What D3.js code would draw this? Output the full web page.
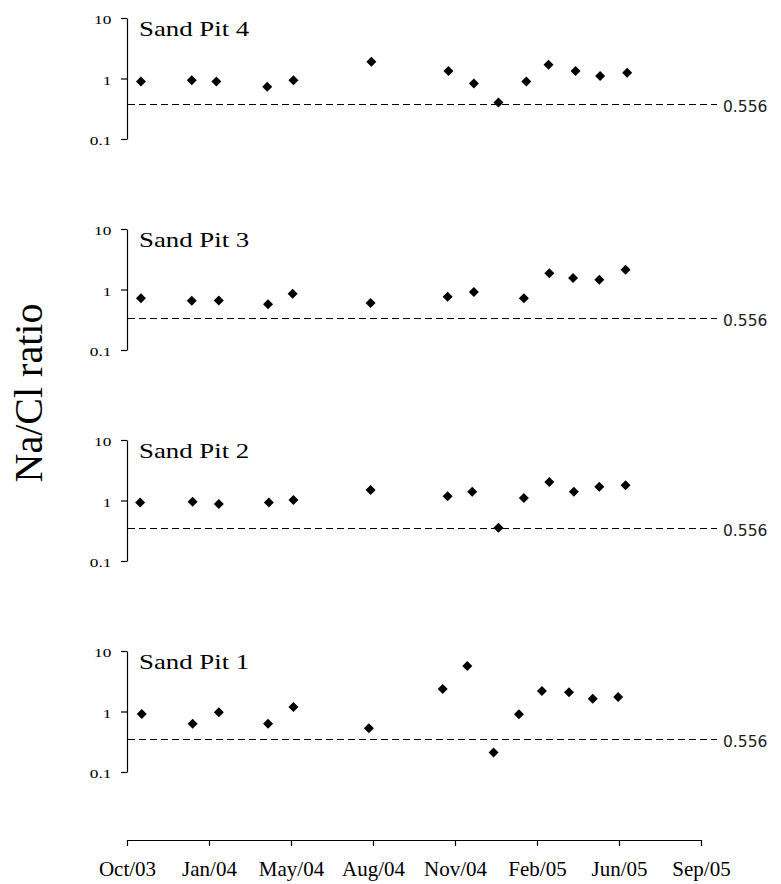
<!DOCTYPE html>
<html>
<head>
<meta charset="utf-8">
<script src="https://cdn.jsdelivr.net/npm/d3@7/dist/d3.min.js"></script>
<style>
  html, body { margin: 0; padding: 0; background: #fff; }
  svg { display: block; }
</style>
</head>
<body>
<script>
// ---------------- DATA ----------------
const panelNames = ["Sand Pit 4", "Sand Pit 3", "Sand Pit 2", "Sand Pit 1"];

const pit4Dates  = ["2003-11-01","2004-01-02","2004-02-01","2004-04-03","2004-05-05","2004-08-08","2004-11-10","2004-12-11","2005-01-10","2005-02-13","2005-03-12","2005-04-14","2005-05-14","2005-06-16"];
const pit4Values = [0.89, 0.94, 0.89, 0.73, 0.94, 1.90, 1.33, 0.83, 0.40, 0.89, 1.69, 1.33, 1.10, 1.25];

const pit3Dates  = ["2003-11-01","2004-01-02","2004-02-04","2004-04-04","2004-05-04","2004-08-07","2004-11-09","2004-12-11","2005-02-10","2005-03-13","2005-04-11","2005-05-13","2005-06-14"];
const pit3Values = [0.72, 0.65, 0.66, 0.57, 0.85, 0.60, 0.76, 0.91, 0.72, 1.85, 1.55, 1.45, 2.12];

const pit2Dates  = ["2003-10-31","2004-01-03","2004-02-04","2004-04-05","2004-05-05","2004-08-07","2004-11-09","2004-12-09","2005-01-10","2005-02-10","2005-03-13","2005-04-12","2005-05-13","2005-06-14"];
const pit2Values = [0.93, 0.95, 0.875, 0.93, 1.02, 1.49, 1.17, 1.40, 0.355, 1.10, 2.02, 1.40, 1.69, 1.78];

const pit1Dates  = ["2003-11-02","2004-01-03","2004-02-04","2004-04-04","2004-05-05","2004-08-05","2004-11-03","2004-12-03","2005-01-04","2005-02-04","2005-03-04","2005-04-06","2005-05-05","2005-06-05"];
const pit1Values = [0.91, 0.63, 0.97, 0.63, 1.19, 0.53, 2.35, 5.65, 0.21, 0.90, 2.18, 2.08, 1.63, 1.74];

// dashed reference line (plotted level per panel) and its label
const refLineLevels = [0.375, 0.34, 0.347, 0.35];
const refLineLabel = "0.556";

const yTickValues = [10, 1, 0.1];
const yTickLabels = ["10", "1", "0.1"];
const xDomain = ["2003-10-15", "2005-09-14"];
const xTickDates = ["2003-10-15","2004-01-23","2004-05-02","2004-08-10","2004-11-18","2005-02-26","2005-06-06","2005-09-14"];
const xTickLabels = ["Oct/03","Jan/04","May/04","Aug/04","Nov/04","Feb/05","Jun/05","Sep/05"];
const yTitle = "Na/Cl ratio";

// ---------------- LAYOUT ----------------
const W = 781, H = 884;
const axisX = 127;
const xRight = 701;
const panelTop0 = 18, panelStep = 211, panelH = 121;
const xAxisY = 840;
const serif = "'Liberation Serif', 'Times New Roman', serif";

const parse = d3.utcParse("%Y-%m-%d");
const panelDates = [pit4Dates, pit3Dates, pit2Dates, pit1Dates];
const panelValues = [pit4Values, pit3Values, pit2Values, pit1Values];

const svg = d3.select("body").append("svg")
  .attr("width", W).attr("height", H)
  .attr("viewBox", `0 0 ${W} ${H}`);

const x = d3.scaleUtc()
  .domain(xDomain.map(parse))
  .range([axisX, xRight]);

const diamond = d3.symbol().type(d3.symbolSquare).size(50);

panelNames.forEach((name, i) => {
  const top = panelTop0 + i * panelStep;
  const y = d3.scaleLog().domain([0.1, 10]).range([top + panelH, top]);

  const g = svg.append("g");

  // y axis
  const yAxis = d3.axisLeft(y)
    .tickValues(yTickValues)
    .tickFormat((d, k) => yTickLabels[k])
    .tickSize(6)
    .tickSizeOuter(0);
  const ga = g.append("g")
    .attr("transform", `translate(${axisX},0)`)
    .call(yAxis);
  ga.select(".domain").attr("stroke", "#000").attr("stroke-width", 1.2);
  ga.selectAll(".tick line").attr("stroke", "#000").attr("stroke-width", 1.2);
  ga.selectAll(".tick text")
    .attr("font-family", serif)
    .attr("font-size", 13.5)
    .attr("fill", "#000")
    .attr("x", -12.2)
    .attr("dy", null)
    .attr("y", 5.5)
    .attr("transform", "scale(1.28,1)");

  // dashed reference line
  const ly = Math.round(y(refLineLevels[i])) + 0.5;
  g.append("line")
    .attr("x1", axisX + 1).attr("x2", xRight + 16)
    .attr("y1", ly).attr("y2", ly)
    .attr("stroke", "#000").attr("stroke-width", 1.2)
    .attr("stroke-dasharray", "7,4");
  g.append("text")
    .attr("x", xRight + 22).attr("y", ly + 7)
    .attr("font-family", "'DejaVu Sans', sans-serif")
    .attr("font-size", 15.5)
    .attr("fill", "#222")
    .text(refLineLabel);

  // title
  g.append("text")
    .attr("transform", `translate(${axisX + 12},${top + 18}) scale(1.22,1)`)
    .attr("font-family", serif)
    .attr("font-size", 22)
    .attr("fill", "#000")
    .text(name);

  // points
  const pts = panelDates[i].map((d, k) => ({ date: parse(d), v: panelValues[i][k] }));
  g.selectAll("path.pt").data(pts).join("path")
    .attr("class", "pt")
    .attr("d", diamond)
    .attr("transform", d => `translate(${x(d.date)},${y(d.v)}) rotate(45)`)
    .attr("fill", "#000");
});

// x axis
const xAxis = d3.axisBottom(x)
  .tickValues(xTickDates.map(parse))
  .tickFormat((d, k) => xTickLabels[k])
  .tickSize(6)
  .tickSizeOuter(0)
  .tickPadding(15);
const gx = svg.append("g")
  .attr("transform", `translate(0,${xAxisY})`)
  .call(xAxis);
gx.select(".domain").attr("stroke", "#000").attr("stroke-width", 1.2);
gx.selectAll(".tick line").attr("stroke", "#000").attr("stroke-width", 1.2);
gx.selectAll(".tick text")
  .attr("font-family", serif)
  .attr("font-size", 21)
  .attr("fill", "#000");

// y title
svg.append("text")
  .attr("transform", `translate(42,393) rotate(-90)`)
  .attr("text-anchor", "middle")
  .attr("font-family", serif)
  .attr("font-size", 40)
  .attr("fill", "#000")
  .text(yTitle);
</script>
</body>
</html>
